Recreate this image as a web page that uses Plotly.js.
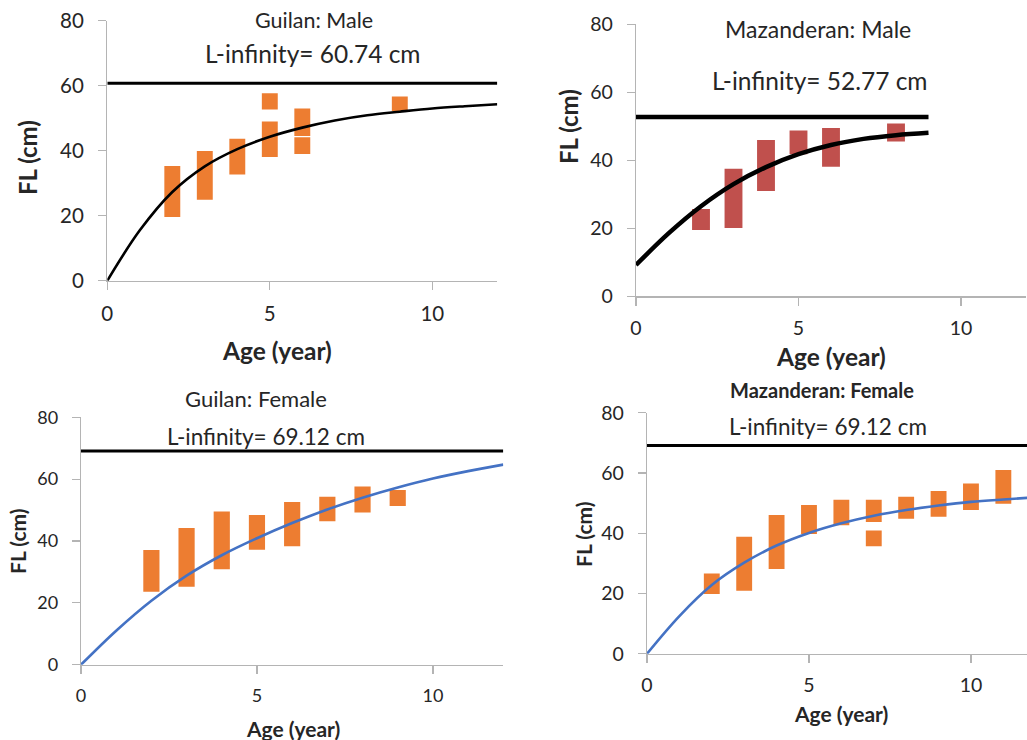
<!DOCTYPE html>
<html>
<head>
<meta charset="utf-8">
<script src="https://cdn.plot.ly/plotly-3.0.1.min.js"></script>
<style>html,body{margin:0;padding:0;overflow:hidden;background:#fff}#chart{width:1027px;height:740px}</style>
</head>
<body>
<div id="chart"></div>
<script>
// ---------- data ----------
const panelTitles = ["Guilan: Male", "Mazanderan: Male", "Guilan: Female", "Mazanderan: Female"];
const linfValues = [60.74, 52.77, 69.12, 69.12];
const linfLineEnd = [12, 9, 12, 12];

// Guilan male: length ranges by age
const gmAge = [2, 3, 4, 5, 5, 6, 6, 9];
const gmLow = [19.6, 24.9, 32.7, 52.7, 38.1, 44.5, 39.0, 52.2];
const gmHigh = [35.3, 39.9, 43.7, 57.7, 49.0, 53.0, 44.1, 56.7];

// Mazanderan male
const mmAge = [2, 3, 4, 5, 6, 8];
const mmLow = [19.5, 20.1, 31.0, 41.8, 38.1, 45.5];
const mmHigh = [25.7, 37.5, 46.0, 48.8, 49.5, 50.8];

// Guilan female
const gfAge = [2, 3, 4, 5, 6, 7, 8, 9];
const gfLow = [23.6, 25.2, 30.9, 37.2, 38.3, 46.4, 49.2, 51.3];
const gfHigh = [37.1, 44.2, 49.5, 48.4, 52.6, 54.3, 57.6, 56.5];

// Mazanderan female
const mfAge = [2, 3, 4, 5, 6, 7, 7, 8, 9, 10, 11];
const mfLow = [19.8, 20.9, 28.1, 39.7, 42.6, 43.7, 35.7, 44.8, 45.5, 47.7, 49.8];
const mfHigh = [26.6, 38.8, 46.0, 49.4, 51.1, 51.1, 40.9, 52.1, 54.0, 56.5, 61.0];

// growth curves
const curveAge12 = [0, 1, 2, 3, 4, 5, 6, 7, 8, 9, 10, 11, 12];
const curveAge9 = [0, 1, 2, 3, 4, 5, 6, 7, 8, 9];
const gmCurve = [0, 15.5, 27.3, 35.2, 40.5, 44.3, 47.1, 49.3, 50.9, 52.0, 53.0, 53.7, 54.3];
const mmCurve = [9.2, 18.5, 26.5, 33.0, 38.0, 41.8, 44.5, 46.3, 47.4, 48.1];
const gfCurve = [0, 11.0, 20.7, 28.8, 35.4, 40.9, 45.8, 50.2, 54.0, 57.3, 60.2, 62.6, 64.7];
const mfCurve = [0, 12.5, 22.8, 30.2, 35.9, 40.1, 43.3, 45.8, 47.7, 49.2, 50.4, 51.2, 51.9];

const xTicks = [0, 5, 10];
const yTicks = [0, 20, 40, 60, 80];

// ---------- layout geometry (pixels) ----------
const W = 1027, H = 740;
const FONT = "Lato, 'Open Sans', sans-serif";
const TXT = "#262626";
const AX = "#b4b4b4";
const px = v => v / W;
const py = v => 1 - v / H;

const panels = [
  {age: gmAge, low: gmLow, high: gmHigh, cAge: curveAge12, curve: gmCurve, color: "#ED7D31", bw: 0.49, cColor: "#000000", cW: 2.6, lW: 3,
   x0: 107.3, x1: 497.3, xr: [0, 12], yb: 280.7, yt: 20.7, tick: 20.5, title: [314, 20.5, 21.5, false], linf: [312.5, 53, 24.5],
   xt: [277, 350, 24.5], yt2: [27, 158, 24]},
  {age: mmAge, low: mmLow, high: mmHigh, cAge: curveAge9, curve: mmCurve, color: "#C0504D", bw: 0.55, cColor: "#000000", cW: 4.5, lW: 4.5,
   x0: 636, x1: 1026, xr: [0, 12], yb: 296.3, yt: 24.3, tick: 19.5, title: [818, 29, 23, false], linf: [820, 80, 24.5],
   xt: [831, 356, 24.5], yt2: [568, 127, 24]},
  {age: gfAge, low: gfLow, high: gfHigh, cAge: curveAge12, curve: gfCurve, color: "#ED7D31", bw: 0.46, cColor: "#4472C4", cW: 2.6, lW: 3,
   x0: 81, x1: 503.3, xr: [0, 12], yb: 664.7, yt: 417.3, tick: 18, title: [256, 398.5, 22, false], linf: [266, 436.5, 22.5],
   xt: [292.5, 728, 21], yt2: [17, 541, 21]},
  {age: mfAge, low: mfLow, high: mfHigh, cAge: curveAge12, curve: mfCurve, color: "#ED7D31", bw: 0.49, cColor: "#4472C4", cW: 2.6, lW: 3,
   x0: 647, x1: 1027, xr: [0, 11.73], yb: 653.7, yt: 412.7, tick: 19.5, title: [822, 390, 20, true], linf: [828, 426, 22.5],
   xt: [841, 713, 21], yt2: [583, 534, 21]}
];

const traces = [];
const layout = {
  width: W, height: H,
  margin: {l: 0, r: 0, t: 0, b: 0},
  paper_bgcolor: "#ffffff", plot_bgcolor: "#ffffff",
  showlegend: false, barmode: "overlay",
  font: {family: FONT, color: TXT},
  annotations: []
};

panels.forEach((p, i) => {
  const n = i === 0 ? "" : String(i + 1);
  const xa = "x" + n, ya = "y" + n;
  traces.push({
    type: "bar", x: p.age, base: p.low, y: p.high.map((h, k) => h - p.low[k]),
    width: p.bw, marker: {color: p.color, line: {width: 0}}, xaxis: xa, yaxis: ya, hoverinfo: "skip"
  });
  traces.push({
    type: "scatter", mode: "lines", x: p.cAge, y: p.curve, line: {color: p.cColor, width: p.cW, shape: "spline", smoothing: 1},
    xaxis: xa, yaxis: ya, hoverinfo: "skip"
  });
  traces.push({
    type: "scatter", mode: "lines", x: [0, linfLineEnd[i]], y: [linfValues[i], linfValues[i]],
    line: {color: "#000000", width: p.lW}, xaxis: xa, yaxis: ya, hoverinfo: "skip"
  });
  const common = {showgrid: false, zeroline: false, showline: true, linecolor: AX, linewidth: 1.3,
    ticks: "outside", ticklen: 8, tickwidth: 1.3, tickcolor: AX, tickfont: {family: FONT, size: p.tick, color: TXT}};
  layout["xaxis" + n] = Object.assign({}, common, {domain: [px(p.x0), Math.min(1, px(p.x1))], range: p.xr, anchor: ya,
    tickvals: xTicks, ticktext: xTicks.map(String), ticklabelstandoff: 6});
  layout["yaxis" + n] = Object.assign({}, common, {domain: [py(p.yb), py(p.yt)], range: [0, 80], anchor: xa,
    tickvals: yTicks, ticktext: yTicks.map(String), ticklabelstandoff: 10});
  const t = p.title;
  layout.annotations.push({xref: "paper", yref: "paper", x: px(t[0]), y: py(t[1]), xanchor: "center", yanchor: "middle", showarrow: false,
    text: t[3] ? "<b>" + panelTitles[i] + "</b>" : panelTitles[i], font: {family: FONT, size: t[2], color: TXT}});
  layout.annotations.push({xref: "paper", yref: "paper", x: px(p.linf[0]), y: py(p.linf[1]), xanchor: "center", yanchor: "middle", showarrow: false,
    text: "L-infinity= " + linfValues[i].toFixed(2) + " cm", font: {family: FONT, size: p.linf[2], color: TXT}});
  layout.annotations.push({xref: "paper", yref: "paper", x: px(p.xt[0]), y: py(p.xt[1]), xanchor: "center", yanchor: "middle", showarrow: false,
    text: "<b>Age (year)</b>", font: {family: FONT, size: p.xt[2], color: TXT}});
  layout.annotations.push({xref: "paper", yref: "paper", x: px(p.yt2[0]), y: py(p.yt2[1]), xanchor: "center", yanchor: "middle", showarrow: false,
    textangle: -90, text: "<b>FL (cm)</b>", font: {family: FONT, size: p.yt2[2], color: TXT}});
});

Plotly.newPlot("chart", traces, layout, {staticPlot: true, displayModeBar: false});
</script>
</body>
</html>
